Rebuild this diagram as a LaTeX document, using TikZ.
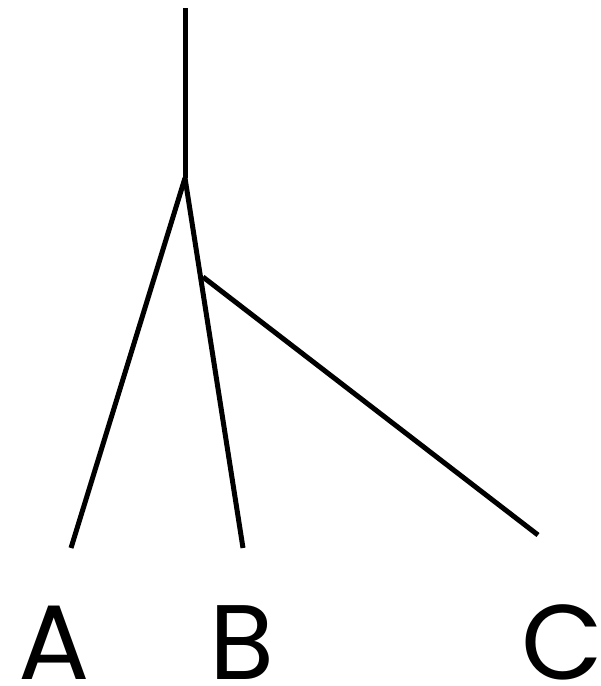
\documentclass[tikz,border=0pt]{standalone}
\usepackage{fontspec}
\setmainfont{Poppins}
\begin{document}
\begin{tikzpicture}[x=1pt,y=-1pt,
  edge/.style={line width=5pt},
  leaf/.style={anchor=base,inner sep=0pt,font=\fontsize{106}{106}\selectfont}]
\useasboundingbox (0,0) rectangle (601,686);
\coordinate (top) at (185,8);
\coordinate (j) at (185,178);
\coordinate (jb) at (203,277);
\coordinate (ea) at (71,548);
\coordinate (eb) at (243,548);
\coordinate (ec) at (538,535);
\draw[edge] (top) -- (j);
\draw[edge] (j) -- (ea);
\draw[edge] (j) -- (eb);
\draw[edge] (jb) -- (ec);
\node[leaf] (A) at (54,679) {A};
\node[leaf] (B) at (242,679) {B};
\node[leaf] (C) at (562,679) {C};
\end{tikzpicture}
\end{document}
